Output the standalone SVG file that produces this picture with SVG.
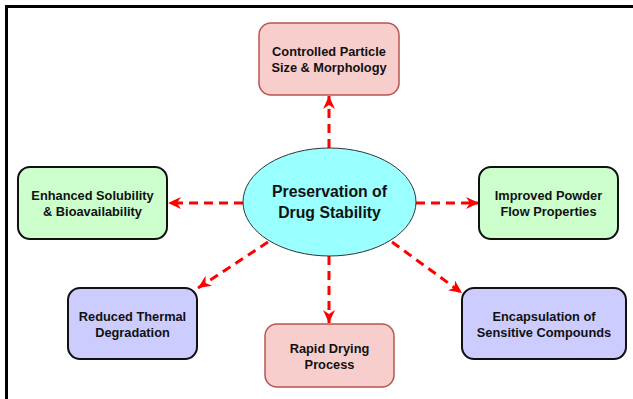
<svg xmlns="http://www.w3.org/2000/svg" width="633" height="399" viewBox="0 0 633 399">
<defs>
<style>
.t{font-family:"Liberation Sans",Arial,sans-serif;font-weight:bold;font-size:12.8px;fill:#111;text-anchor:middle}
.tc{font-family:"Liberation Sans",Arial,sans-serif;font-weight:bold;font-size:15.8px;fill:#111;text-anchor:middle}
.pink{fill:#f8cecc;stroke:#b85450;stroke-width:1.5}
.green{fill:#ccffcc;stroke:#111;stroke-width:2}
.blue{fill:#ccccff;stroke:#111;stroke-width:2}
.c{fill:none;stroke:#ff0000;stroke-width:3;stroke-dasharray:9,6;marker-end:url(#ah)}
</style>
<marker id="ah" markerUnits="userSpaceOnUse" markerWidth="14" markerHeight="14" refX="13" refY="7" orient="auto">
<path d="M0,1 L13,7 L0,13 L4,7 Z" fill="#ff0000"/>
</marker>
</defs>
<rect width="633" height="399" fill="#ffffff"/>
<path d="M6.5,399 V6.5 H633" fill="none" stroke="#000" stroke-width="3"/>
<g id="connectors">
<path class="c" d="M329,148 V96"/>
<path class="c" d="M243,203 H168"/>
<path class="c" d="M416,203 H479"/>
<path class="c" d="M329,256 V323"/>
<path class="c" d="M268,242 L198,288"/>
<path class="c" d="M392,242 L462,293"/>
</g>
<g id="center">
<ellipse cx="329.5" cy="202" rx="86.5" ry="54" fill="#99ffff" stroke="#333" stroke-width="1"/>
<text class="tc" x="329.5" y="197">Preservation of</text>
<text class="tc" x="329.5" y="218">Drug Stability</text>
</g>
<g id="particle">
<rect class="pink" x="259" y="23" width="140" height="72" rx="12"/>
<text class="t" x="329" y="56">Controlled Particle</text>
<text class="t" x="329" y="72">Size &amp; Morphology</text>
</g>
<g id="solubility">
<rect class="green" x="18" y="167" width="149" height="72" rx="12"/>
<text class="t" x="92.5" y="200">Enhanced Solubility</text>
<text class="t" x="92.5" y="216">&amp; Bioavailability</text>
</g>
<g id="powder">
<rect class="green" x="479" y="167" width="139" height="72" rx="12"/>
<text class="t" x="548.5" y="200">Improved Powder</text>
<text class="t" x="548.5" y="216">Flow Properties</text>
</g>
<g id="thermal">
<rect class="blue" x="68" y="288" width="129" height="71" rx="12"/>
<text class="t" x="132.5" y="321">Reduced Thermal</text>
<text class="t" x="132.5" y="337">Degradation</text>
</g>
<g id="drying">
<rect class="pink" x="265" y="324" width="129" height="63" rx="12"/>
<text class="t" x="329.5" y="353">Rapid Drying</text>
<text class="t" x="329.5" y="369">Process</text>
</g>
<g id="encapsulation">
<rect class="blue" x="462" y="288" width="164" height="71" rx="12"/>
<text class="t" x="544" y="321">Encapsulation of</text>
<text class="t" x="544" y="337">Sensitive Compounds</text>
</g>
</svg>
